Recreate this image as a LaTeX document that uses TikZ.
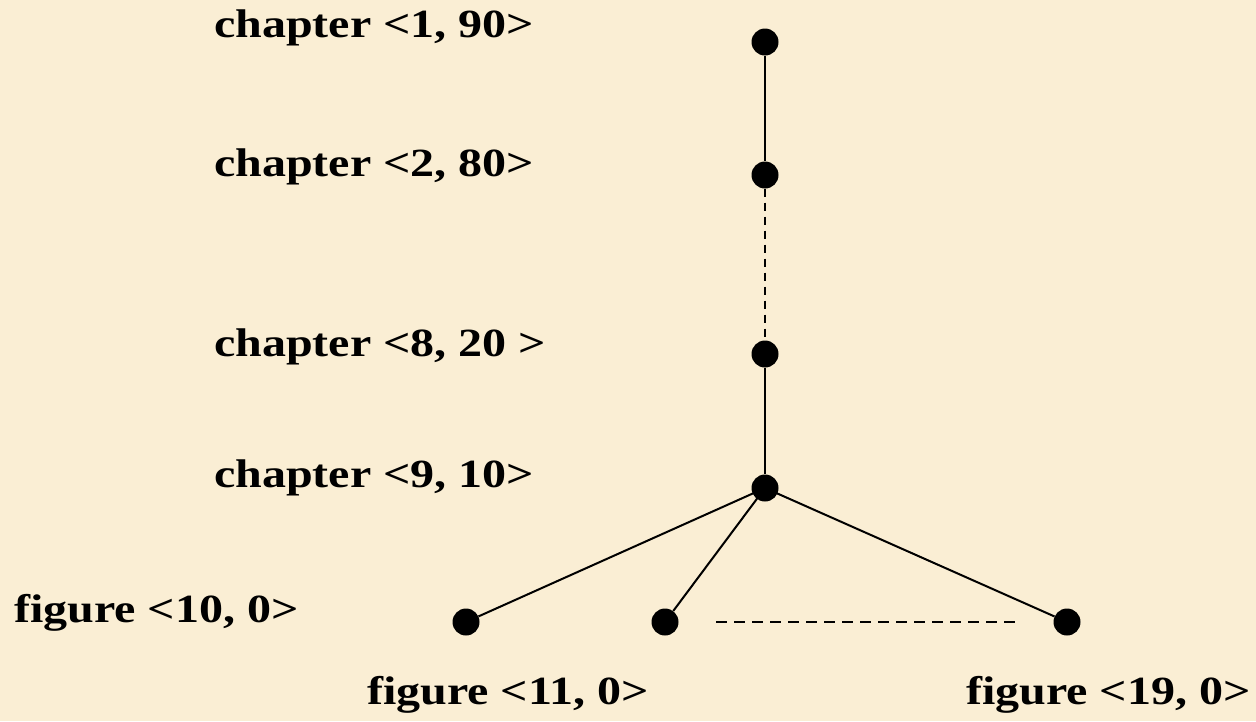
\documentclass[tikz,border=0pt]{standalone}
\usepackage{fontspec}
\usepackage{graphicx}
\setmainfont{Liberation Serif}
\definecolor{parch}{RGB}{250,238,212}
\begin{document}
\begin{tikzpicture}[x=1pt,y=-1pt,
  dot/.style={circle,fill=black,draw=none,inner sep=0pt,minimum width=26pt,minimum height=27pt},
  lbl/.style={anchor=base west,inner sep=0pt,font=\fontsize{40}{46}\selectfont\bfseries},
  edge/.style={line width=2pt},
  dedge/.style={line width=2pt,dash pattern=on 8pt off 6pt},
  hedge/.style={line width=2pt,dash pattern=on 11pt off 7pt}]
\fill[parch] (0,0) rectangle (1256,721);
\useasboundingbox (0,0) rectangle (1256,721);
\node[dot] (c1) at (765,42) {};
\node[dot] (c2) at (765,175) {};
\node[dot] (c8) at (765,354) {};
\node[dot] (c9) at (765,488) {};
\node[dot] (f10) at (466,622) {};
\node[dot] (f11) at (665,622) {};
\node[dot] (f19) at (1067,622) {};
\coordinate (hs) at (716,622);
\coordinate (he) at (1016,622);
\draw[edge] (c1) -- (c2);
\draw[dedge] (c2) -- (c8);
\draw[edge] (c8) -- (c9);
\draw[edge] (c9.center) -- (f10);
\draw[edge] (c9.center) -- (f11);
\draw[edge] (c9.center) -- (f19);
\draw[hedge] (hs) -- (he);
\node[lbl] (l1) at (214,37) {\scalebox{1.2}[1]{chapter <1, 90>}};
\node[lbl] (l2) at (214,176) {\scalebox{1.2}[1]{chapter <2, 80>}};
\node[lbl] (l8) at (214,356) {\scalebox{1.2}[1]{chapter <8, 20 >}};
\node[lbl] (l9) at (214,487) {\scalebox{1.2}[1]{chapter <9, 10>}};
\node[lbl] (l10) at (14,622) {\scalebox{1.2}[1]{figure <10, 0>}};
\node[lbl] (l11) at (367,704) {\scalebox{1.2}[1]{figure <11, 0>}};
\node[lbl] (l19) at (966,704) {\scalebox{1.2}[1]{figure <19, 0>}};
\end{tikzpicture}
\end{document}
